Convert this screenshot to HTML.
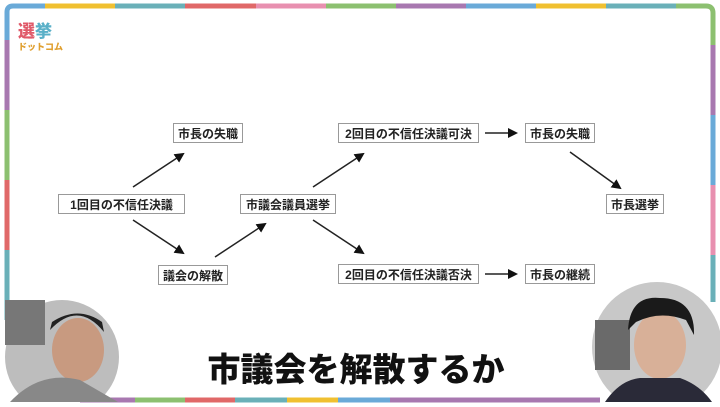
<!DOCTYPE html>
<html><head><meta charset="utf-8"><style>
body{margin:0;width:720px;height:407px;overflow:hidden;background:#fff;font-family:"Liberation Sans","Noto Sans CJK JP",sans-serif}
.b{position:absolute;border:1.5px solid #999;background:#fff;font-weight:bold;font-size:12px;color:#222;box-sizing:border-box;display:flex;align-items:center;justify-content:center;height:20px}
</style></head><body>
<svg width="720" height="407" style="position:absolute;left:0;top:0">
<defs><marker id="a" markerWidth="10" markerHeight="10" refX="8" refY="5" orient="auto" markerUnits="userSpaceOnUse"><path d="M0,0L10,5L0,10z" fill="#111"/></marker></defs>
<g stroke-width="5" fill="none">
<path d="M7,40V12Q7,6 13,6H45" stroke="#6aaad8"/>
<line x1="45" y1="6" x2="115" y2="6" stroke="#f0c030"/>
<line x1="115" y1="6" x2="185" y2="6" stroke="#6ab0b8"/>
<line x1="185" y1="6" x2="256" y2="6" stroke="#e06868"/>
<line x1="256" y1="6" x2="326" y2="6" stroke="#e890b0"/>
<line x1="326" y1="6" x2="396" y2="6" stroke="#8cc070"/>
<line x1="396" y1="6" x2="466" y2="6" stroke="#a878b0"/>
<line x1="466" y1="6" x2="536" y2="6" stroke="#6aaad8"/>
<line x1="536" y1="6" x2="606" y2="6" stroke="#f0c030"/>
<line x1="606" y1="6" x2="676" y2="6" stroke="#6ab0b8"/>
<path d="M676,6H706Q713,6 713,13V45" stroke="#8cc070"/>
<line x1="713" y1="45" x2="713" y2="115" stroke="#a878b0"/>
<line x1="713" y1="115" x2="713" y2="185" stroke="#6aaad8"/>
<line x1="713" y1="185" x2="713" y2="255" stroke="#e890b0"/>
<line x1="713" y1="255" x2="713" y2="302" stroke="#6ab0b8"/>
<line x1="7" y1="40" x2="7" y2="110" stroke="#a878b0"/>
<line x1="7" y1="110" x2="7" y2="180" stroke="#8cc070"/>
<line x1="7" y1="180" x2="7" y2="250" stroke="#e06868"/>
<line x1="7" y1="250" x2="7" y2="320" stroke="#6ab0b8"/>
<line x1="80" y1="400" x2="135" y2="400" stroke="#a878b0"/>
<line x1="135" y1="400" x2="185" y2="400" stroke="#8cc070"/>
<line x1="185" y1="400" x2="235" y2="400" stroke="#e06868"/>
<line x1="235" y1="400" x2="287" y2="400" stroke="#6ab0b8"/>
<line x1="287" y1="400" x2="338" y2="400" stroke="#f0c030"/>
<line x1="338" y1="400" x2="390" y2="400" stroke="#6aaad8"/>
<line x1="390" y1="400" x2="600" y2="400" stroke="#a878b0"/>
</g>
<g stroke="#222" stroke-width="1.5" marker-end="url(#a)">
<line x1="133" y1="187" x2="183" y2="154"/>
<line x1="133" y1="220" x2="183" y2="253"/>
<line x1="215" y1="257" x2="265" y2="224"/>
<line x1="313" y1="187" x2="363" y2="154"/>
<line x1="313" y1="220" x2="363" y2="253"/>
<line x1="485" y1="133" x2="516" y2="133"/>
<line x1="485" y1="274" x2="516" y2="274"/>
<line x1="570" y1="152" x2="620" y2="188"/>
</g>
<clipPath id="c1"><rect x="0" y="0" width="720" height="402"/></clipPath>
<g clip-path="url(#c1)">
<circle cx="62" cy="357" r="57" fill="#bdbdbd"/>
<rect x="5" y="300" width="40" height="45" fill="#777"/>
<ellipse cx="78" cy="350" rx="26" ry="32" fill="#c89a80"/>
<path d="M50,330Q78,300 104,332L102,322Q78,305 52,322z" fill="#222"/>
<path d="M10,402Q40,370 80,380L118,402z" fill="#888"/>
<circle cx="657" cy="347" r="65" fill="#c8c8c8"/>
<rect x="595" y="320" width="35" height="50" fill="#6a6a6a"/>
<ellipse cx="660" cy="345" rx="26" ry="34" fill="#d8b098"/>
<path d="M628,330Q630,295 660,298Q695,298 694,335L686,320Q660,310 636,322z" fill="#1a1a1a"/>
<path d="M605,402Q620,380 640,378L680,378Q700,385 712,402z" fill="#2a2a38"/>
</g>
<text x="356" y="381" text-anchor="middle" font-family="Liberation Sans,Noto Sans CJK JP,sans-serif" font-weight="900" font-size="33" fill="#111" stroke="#fff" stroke-width="6" paint-order="stroke">市議会を解散するか</text>
<text x="18" y="37" font-family="Noto Sans CJK JP,sans-serif" font-weight="900" font-size="17" fill="#e05a6a">選<tspan fill="#5ab0c8">挙</tspan></text>
<text x="18" y="50" font-family="Noto Sans CJK JP,sans-serif" font-weight="900" font-size="9" fill="#e0a030">ドットコム</text>
</svg>
<div class="b" style="left:173px;top:123px;width:70px">市長の失職</div>
<div class="b" style="left:58px;top:194px;width:127px">1回目の不信任決議</div>
<div class="b" style="left:158px;top:265px;width:70px">議会の解散</div>
<div class="b" style="left:240px;top:194px;width:96px">市議会議員選挙</div>
<div class="b" style="left:338px;top:123px;width:141px">2回目の不信任決議可決</div>
<div class="b" style="left:338px;top:264px;width:141px">2回目の不信任決議否決</div>
<div class="b" style="left:525px;top:123px;width:70px">市長の失職</div>
<div class="b" style="left:525px;top:264px;width:70px">市長の継続</div>
<div class="b" style="left:606px;top:194px;width:58px">市長選挙</div>
</body></html>
